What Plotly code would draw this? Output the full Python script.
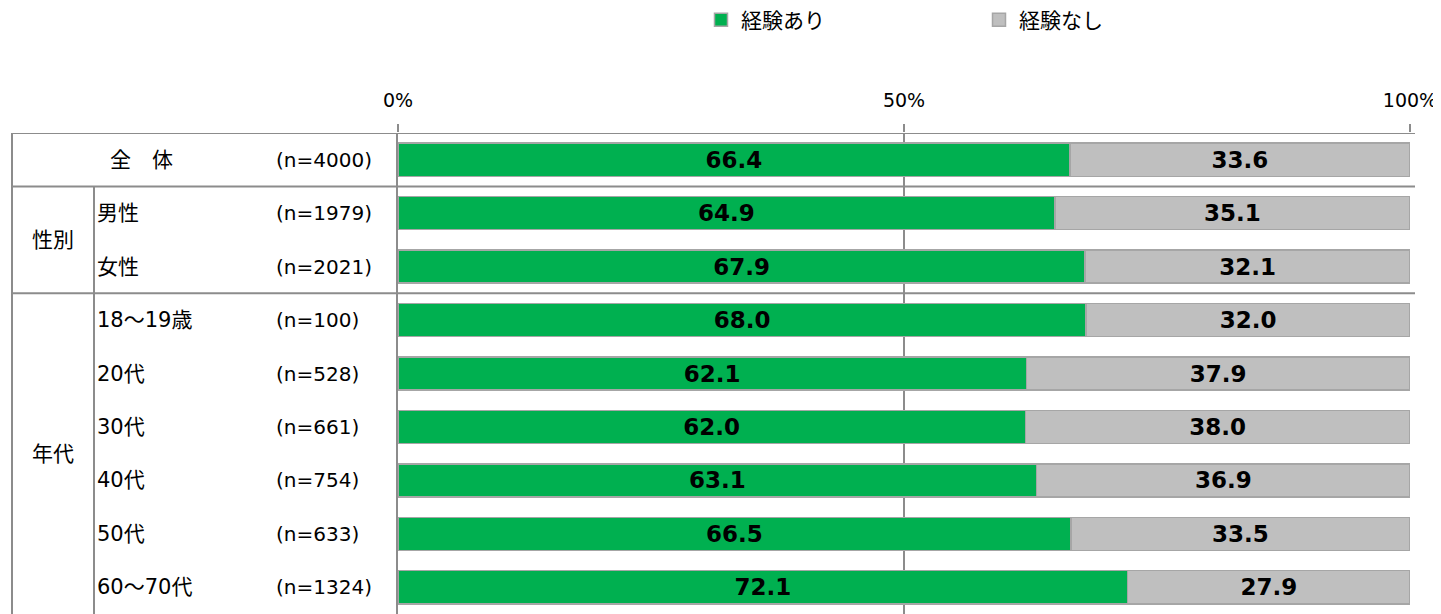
"""experience yes/no stacked bar chart with a table-style left header"""
import plotly.graph_objects as go

# data
rows = ["全　体", "男性", "女性", "18～19歳", "20代", "30代", "40代", "50代", "60～70代"]
sample_n = [4000, 1979, 2021, 100, 528, 661, 754, 633, 1324]
has_exp = [66.4, 64.9, 67.9, 68.0, 62.1, 62.0, 63.1, 66.5, 72.1]
no_exp = [33.6, 35.1, 32.1, 32.0, 37.9, 38.0, 36.9, 33.5, 27.9]
groups = ["性別", "年代"]
series_names = ["経験あり", "経験なし"]
x_ticks = [0, 50, 100]
x_tick_text = ["0%", "50%", "100%"]

FONT = "DejaVu Sans, Noto Sans CJK JP, sans-serif"
LINE = "#8c8c8c"
BORDER = "#a6a6a6"
COLORS = ["#00b050", "#bfbfbf"]
OFF = 8  # page body margin in the html
W, H = 1441 - OFF, 614 - OFF
L, T, B = 398 - OFF, 133 - OFF, 0
R = W - (1410 - OFF)
plot_w = W - L - R


def px_to_paper(px):
    # page x pixel -> paper fraction
    return (px - OFF - L) / plot_w


fig = go.Figure()
for vals, name, col, leg in zip([has_exp, no_exp], series_names, COLORS,
                                ["legend", "legend2"]):
    fig.add_trace(
        go.Bar(
            y=rows, x=vals, name=name, orientation="h",
            marker=dict(color=col, line=dict(color=BORDER, width=1.5)),
            width=0.62, texttemplate="%{x:.1f}", textposition="inside",
            insidetextanchor="middle", textangle=0,
            textfont=dict(size=23, color="black", weight="bold", family=FONT),
            showlegend=False,
        )
    )
    # legend-only marker so the key square can be a bit bigger
    fig.add_trace(
        go.Scatter(
            x=[None], y=[None], mode="markers", name=name, legend=leg,
            marker=dict(symbol="square", size=13, color=col,
                        line=dict(color=BORDER, width=1.5)),
        )
    )

# left table: labels
annotations = []
for i, (lab, n) in enumerate(zip(rows, sample_n)):
    if i == 0:
        annotations.append(dict(x=px_to_paper(141), y=i, text=lab, xanchor="center",
                                font=dict(size=21)))
    else:
        annotations.append(dict(x=px_to_paper(95), y=i, text=lab, xanchor="left",
                                font=dict(size=21)))
    annotations.append(dict(x=px_to_paper(274), y=i, text=f"(n={n})", xanchor="left",
                            font=dict(size=20)))
annotations.append(dict(x=px_to_paper(53), y=1.5, text=groups[0], xanchor="center",
                        font=dict(size=21)))
annotations.append(dict(x=px_to_paper(53), y=5.5, text=groups[1], xanchor="center",
                        font=dict(size=21)))
for a in annotations:
    a["font"].update(color="black", family=FONT)
    a.update(xref="paper", yref="y", showarrow=False, yanchor="middle")

# left table: lines
n_rows = len(rows)
shapes = []
for yb in [-0.5, 0.5, 2.5]:
    shapes.append(dict(type="line", xref="paper", yref="y",
                       x0=px_to_paper(12), x1=px_to_paper(1415), y0=yb, y1=yb))
shapes.append(dict(type="line", xref="paper", yref="y",
                   x0=px_to_paper(12), x1=px_to_paper(12), y0=-0.5, y1=n_rows - 0.5))
shapes.append(dict(type="line", xref="paper", yref="y",
                   x0=px_to_paper(94), x1=px_to_paper(94), y0=0.5, y1=n_rows - 0.5))
for s in shapes:
    s.update(line=dict(color=LINE, width=2), layer="above")

fig.update_layout(
    barmode="stack",
    width=W, height=H,
    margin=dict(l=L, r=R, t=T, b=B, pad=0),
    paper_bgcolor="white", plot_bgcolor="white",
    font=dict(family=FONT, size=20, color="black"),
    uniformtext=dict(minsize=23, mode="show"),
    annotations=annotations,
    shapes=shapes,
    legend=dict(orientation="h", xref="container", yref="container",
                x=(701 - OFF) / W, y=1 - (20 - OFF) / H, xanchor="left", yanchor="middle",
                font=dict(size=21), bgcolor="rgba(0,0,0,0)"),
    legend2=dict(orientation="h", xref="container", yref="container",
                 x=(979 - OFF) / W, y=1 - (20 - OFF) / H, xanchor="left", yanchor="middle",
                 font=dict(size=21), bgcolor="rgba(0,0,0,0)"),
    showlegend=True,
)
fig.update_xaxes(
    range=[0, 100], side="top", tickvals=x_ticks, ticktext=x_tick_text,
    tickfont=dict(size=19), ticks="outside", ticklen=8, tickwidth=2,
    tickcolor=LINE, ticklabelstandoff=9, showgrid=True, gridcolor=LINE, gridwidth=2,
    showline=False, zeroline=False, fixedrange=True,
)
fig.update_yaxes(
    range=[n_rows - 0.5, -0.5], showticklabels=False, ticks="",
    showgrid=False, showline=True, linecolor=LINE, linewidth=2,
    zeroline=False, fixedrange=True,
)

fig.write_html("out.html")
